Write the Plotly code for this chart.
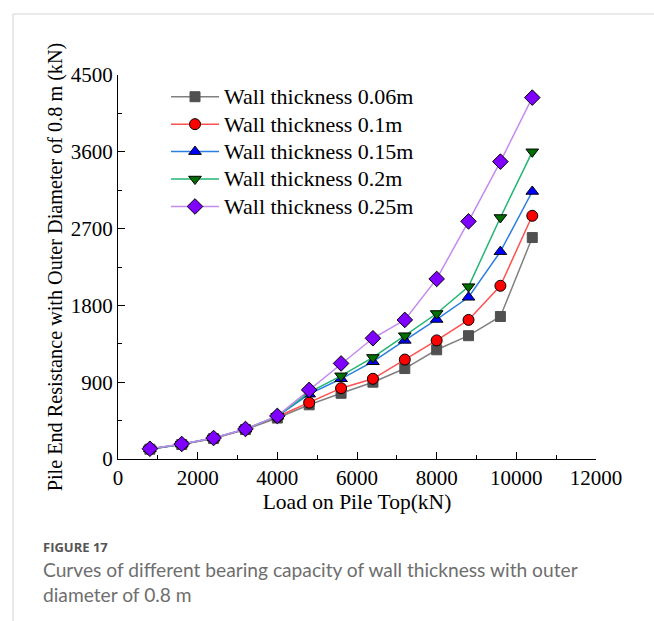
import plotly.graph_objects as go

# Load on pile top (kN)
load = [800, 1600, 2400, 3200, 4000, 4800, 5600, 6400, 7200, 8000, 8800, 9600, 10400]

# Pile end resistance (kN) for each wall thickness
t006 = [115, 170, 240, 345, 480, 635, 770, 900, 1060, 1280, 1445, 1670, 2595]
t010 = [118, 172, 243, 348, 495, 660, 830, 940, 1165, 1390, 1630, 2030, 2850]
t015 = [118, 174, 245, 350, 500, 760, 940, 1140, 1390, 1635, 1895, 2430, 3135]
t020 = [118, 174, 245, 350, 502, 780, 975, 1190, 1445, 1705, 2020, 2830, 3600]
t025 = [120, 176, 246, 352, 505, 810, 1120, 1415, 1630, 2110, 2785, 3485, 4235]

series_names = ["Wall thickness 0.06m", "Wall thickness 0.1m", "Wall thickness 0.15m",
                "Wall thickness 0.2m", "Wall thickness 0.25m"]
series_values = [t006, t010, t015, t020, t025]
line_colors = ["#808080", "#ff5050", "#2a7de1", "#22b574", "#c58af0"]
marker_colors = ["#505050", "#ff0000", "#0000ff", "#006e00", "#8000ff"]
marker_symbols = ["square", "circle", "triangle-up", "triangle-down", "diamond"]
marker_sizes = [10, 11, 11, 11, 12]

x_ticks = [0, 2000, 4000, 6000, 8000, 10000, 12000]
y_ticks = [0, 900, 1800, 2700, 3600, 4500]

W, H = 654, 621
L, R, T, B = 118, 58, 75, 162
pw, ph = W - L - R, H - T - B


def px(xp):
    return (xp - L) / pw


def py(yp):
    return (H - B - yp) / ph


fig = go.Figure()
for name, vals, lc, mc, sym, ms in zip(series_names, series_values, line_colors,
                                       marker_colors, marker_symbols, marker_sizes):
    fig.add_trace(go.Scatter(
        x=load, y=vals, mode="lines+markers",
        name='<span style="font-size:22px">' + name + "</span>",
        line=dict(color=lc, width=1.5),
        marker=dict(color=mc, symbol=sym, size=ms,
                    line=dict(color="#000000" if sym != "square" else mc, width=1)),
    ))

serif = "Liberation Serif, Times New Roman, serif"

fig.update_layout(
    width=W, height=H,
    margin=dict(l=L, r=R, t=T, b=B),
    paper_bgcolor="white", plot_bgcolor="white",
    font=dict(family=serif, size=21, color="#000"),
    showlegend=True,
    # legend row pitch follows the legend font size; the labels themselves are enlarged via span
    legend=dict(x=px(166), y=py(78), xanchor="left", yanchor="top",
                bgcolor="rgba(0,0,0,0)", font=dict(family=serif, size=18.8),
                tracegroupgap=0, itemwidth=48),
    xaxis=dict(range=[0, 12000], tickvals=x_ticks, ticktext=[str(v) for v in x_ticks],
               showgrid=False, zeroline=False, showline=True, linecolor="#000", linewidth=1.2,
               ticks="inside", ticklen=7, tickwidth=1.2, tickcolor="#000",
               minor=dict(ticks="inside", ticklen=4, tickwidth=1.2, dtick=1000, tickcolor="#000"),
               tickfont=dict(family=serif, size=21),
               title=dict(text="Load on Pile Top(kN)", font=dict(family=serif, size=21.5), standoff=4)),
    yaxis=dict(range=[0, 4500], tickvals=y_ticks, ticktext=[str(v) for v in y_ticks],
               showgrid=False, zeroline=False, showline=True, linecolor="#000", linewidth=1.2,
               ticks="inside", ticklen=7, tickwidth=1.2, tickcolor="#000",
               minor=dict(ticks="inside", ticklen=4, tickwidth=1.2, dtick=450, tickcolor="#000"),
               tickfont=dict(family=serif, size=21),
               title=dict(text="Pile End Resistance with Outer Diameter of 0.8 m (kN)",
                          font=dict(family=serif, size=20.2), standoff=2)),
)

# Light frame around the figure panel
frame = "#d4d4d4"
fig.add_shape(type="line", xref="paper", yref="paper",
              x0=px(13), x1=px(W), y0=py(14), y1=py(14), line=dict(color=frame, width=1))
fig.add_shape(type="line", xref="paper", yref="paper",
              x0=px(13), x1=px(13), y0=py(14), y1=py(H), line=dict(color=frame, width=1))

# Caption
fig.add_annotation(xref="paper", yref="paper", x=px(41), y=py(547), xanchor="left", yanchor="middle",
                   text="<b>FIGURE 17</b>", showarrow=False,
                   font=dict(family="Open Sans, sans-serif", size=13, color="#555555"))
caption_lines = ["Curves of different bearing capacity of wall thickness with outer",
                 "diameter of 0.8 m"]
for line_text, ypix in zip(caption_lines, [569, 594]):
    fig.add_annotation(xref="paper", yref="paper", x=px(41), y=py(ypix), xanchor="left",
                       yanchor="middle", text=line_text, showarrow=False, align="left",
                       font=dict(family="Lato, Open Sans, sans-serif", size=19.2, color="#6e6e6e"))

fig.write_html("out.html")
